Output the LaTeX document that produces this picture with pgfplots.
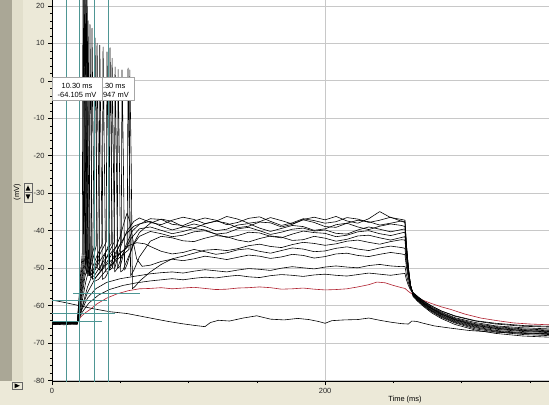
\documentclass[border=0pt]{standalone}
\usepackage{pgfplots}
\pgfplotsset{compat=1.18}
\usepackage{fontspec}
\setmainfont{Liberation Sans}
\definecolor{panel}{RGB}{236,233,216}
\definecolor{darkstrip}{RGB}{170,167,150}
\definecolor{midstrip}{RGB}{226,223,204}
\definecolor{cursor}{RGB}{78,150,148}
\definecolor{trred}{RGB}{175,30,45}
\definecolor{gridc}{RGB}{200,200,200}
\begin{document}
\begin{tikzpicture}[x=1bp,y=1bp]
\useasboundingbox (0,0) rectangle (549,405);
\fill[white] (0,0) rectangle (549,405);
\fill[panel] (0,0) rectangle (549,24);
\fill[panel] (0,24) rectangle (52,405);
\fill[midstrip] (12,24) rectangle (23,405);
\fill[darkstrip] (0,24) rectangle (12,405);
\begin{axis}[
  at={(52bp,24bp)}, anchor=south west, scale only axis,
  width=497bp, height=381bp,
  xmin=0, xmax=364, ymin=-80.1, ymax=21.55,
  axis lines*=left, axis line style={black, line width=0.6bp, -},
  tick align=outside,
  xtick={0,200}, xticklabels={0,200},
  minor xtick={50,100,150,250,300,350},
  ytick={-80,-70,-60,-50,-40,-30,-20,-10,0,10,20},
  yticklabels={-80,-70,-60,-50,-40,-30,-20,-10,0,10,20},
  minor y tick num=4,
  major tick length=4bp, minor tick length=2bp,
  tick style={black, line width=0.5bp},
  grid=major, major grid style={gridc, line width=0.6bp},
  ticklabel style={font=\fontsize{7.5}{9}\selectfont, text=black!85},
  /pgf/number format/assume math mode=true,
  trace/.style={black, line width=0.6bp, line join=round},
  cur/.style={cursor, line width=0.7bp},
]
% red trace
\addplot[trred, line width=0.6bp, line join=round] coordinates {(0,-64.6) (9,-64.4) (18.5,-64.6) (21,-63.0) (24,-62.0) (28,-61.0) (33,-59.5) (40,-58.0) (48,-56.8) (56,-56.0) (64,-55.5) (72,-55.4) (80,-55.2) (88,-55.5) (96,-55.3) (104,-55.1) (112,-55.4) (120,-55.7) (128,-55.6) (136,-55.3) (144,-55.2) (152,-55.0) (160,-55.2) (168,-55.6) (176,-55.5) (184,-55.3) (192,-55.6) (200,-55.8) (208,-55.7) (216,-55.5) (224,-55.0) (232,-54.4) (238,-53.7) (244,-53.9) (250,-54.6) (256,-55.2) (258.5,-55.4) (261,-56.2) (264.5,-57.1) (270,-58.3) (277,-59.3) (285,-60.3) (292,-61.0) (302,-62.2) (314,-63.3) (326,-64.0) (338,-64.6) (350,-64.9) (364,-65.1)};
% T1
\addplot[trace] coordinates {(0,-64.3) (9,-64.5) (18.5,-64.4) (19.8,-58) (21.2,-50) (22.2,-46) (22.7,32) (23.7,-22) (24.6,-50) (25.5,-51.5) (28,-48) (30.8,-44.5) (31.5,11.4) (32.5,-22) (33.4,-50) (35,-50.5) (38,-47) (41.8,-43.5) (42.5,8.8) (43.5,-22) (44.4,-50) (46,-50) (50,-44.5) (55,-40) (60,-37.5)
(64,-36.6) (72,-37.8) (80,-38.4) (88,-37.2) (96,-36.4) (104,-37.0) (112,-38.1) (120,-37.5) (128,-36.2) (136,-36.9) (144,-38.0) (152,-37.6) (160,-36.5) (168,-37.3) (176,-38.2) (184,-37.0) (192,-36.4) (200,-37.1) (208,-36.2) (216,-37.4) (224,-38.0) (232,-36.8) (240,-34.9) (248,-36.5) (256,-37.0) (258.5,-37.2)
(259.5,-43.3) (261,-49.9) (262.5,-54.5) (264.5,-57.6) (268,-58.9) (272,-60.2) (278,-61.9) (285,-63.4) (295,-65.0) (310,-66.5) (325,-67.4) (345,-68.1) (364,-68.4)};
% T2
\addplot[trace] coordinates {(0,-64.8) (9,-64.6) (18.5,-64.7) (20,-57.5) (21.8,-50) (23,-46) (23.5,32) (24.5,-22) (25.4,-51) (27,-51) (30,-47.5) (32.4,-44) (33,10) (34,-22) (34.9,-50.5) (36.5,-50.5) (40,-47) (45.6,-43) (46.2,3.7) (47.2,-22) (48.1,-50) (50,-49.5) (54,-44) (59,-40) (64,-38.3)
(72,-36.8) (80,-37.0) (88,-38.3) (96,-38.6) (104,-37.4) (112,-36.6) (120,-37.2) (128,-38.4) (136,-37.8) (144,-36.7) (152,-36.3) (160,-37.5) (168,-38.6) (176,-37.9) (184,-36.8) (192,-37.3) (200,-38.0) (208,-37.6) (216,-36.5) (224,-36.9) (232,-37.8) (240,-37.2) (248,-36.4) (256,-37.5) (258.5,-37.8)
(259.5,-43.7) (261,-50.0) (262.5,-54.5) (264.5,-57.4) (268,-58.7) (272,-60.0) (278,-61.6) (285,-63.1) (295,-64.6) (310,-66.2) (325,-67.0) (345,-67.7) (364,-68.0)};
% T3
\addplot[trace] coordinates {(0,-64.5) (9,-64.9) (18.5,-64.6) (20.2,-58) (22.2,-51) (23.7,-46) (24.2,31) (25.2,-22) (26.1,-51.5) (28,-51.5) (32,-47.5) (36.8,-43.5) (37.4,9) (38.4,-22) (39.3,-51) (41,-51) (45,-47) (50.7,-43) (51.3,2.9) (52.3,-22) (53.2,-50.5) (55,-49) (59,-44) (64,-40.5)
(72,-38.0) (80,-36.9) (88,-37.5) (96,-38.9) (104,-39.3) (112,-38.2) (120,-37.4) (128,-38.0) (136,-39.2) (144,-38.8) (152,-37.7) (160,-37.9) (168,-39.0) (176,-38.3) (184,-37.1) (192,-37.8) (200,-38.9) (208,-39.1) (216,-38.0) (224,-37.2) (232,-37.6) (240,-38.5) (248,-38.0) (256,-37.4) (258.5,-37.6)
(259.5,-43.5) (261,-49.8) (262.5,-54.4) (264.5,-57.3) (268,-58.6) (272,-59.8) (278,-61.4) (285,-62.9) (295,-64.4) (310,-65.9) (325,-66.8) (345,-67.4) (364,-67.7)};
% T4
\addplot[trace] coordinates {(0,-65.0) (9,-64.7) (18.5,-64.9) (20.5,-58.5) (22.6,-51) (24.5,-46) (25.0,30) (26,-22) (26.9,-52) (29,-51.5) (34,-47) (39.7,-43) (40.3,7.7) (41.3,-22) (42.2,-50.5) (44,-50) (48,-45) (54,-41) (60,-38.8) (64,-38.2)
(72,-37.5) (80,-38.8) (88,-39.8) (96,-39.0) (104,-38.2) (112,-38.9) (120,-40.0) (128,-39.6) (136,-38.5) (144,-38.1) (152,-39.3) (160,-40.2) (168,-39.4) (176,-38.6) (184,-38.9) (192,-39.9) (200,-39.5) (208,-38.4) (216,-38.0) (224,-39.0) (232,-39.7) (240,-38.8) (248,-38.2) (256,-38.6) (258.5,-38.9)
(259.5,-44.4) (261,-50.2) (262.5,-54.5) (264.5,-57.2) (268,-58.5) (272,-59.7) (278,-61.3) (285,-62.7) (295,-64.2) (310,-65.7) (325,-66.6) (345,-67.2) (364,-67.5)};
% T5
\addplot[trace] coordinates {(0,-64.4) (9,-64.3) (18.5,-64.5) (20.8,-58.5) (23,-51.5) (25.1,-46.5) (25.6,29) (26.6,-22) (27.5,-52) (30,-51.5) (36,-47.5) (43.4,-43.5) (44,6) (45,-22) (45.9,-51) (48,-50) (52,-46) (58,-42) (64,-39.5)
(72,-39.0) (80,-39.9) (88,-40.8) (96,-40.2) (104,-39.4) (112,-39.8) (120,-40.9) (128,-40.6) (136,-39.5) (144,-39.1) (152,-40.0) (160,-41.0) (168,-40.4) (176,-39.6) (184,-39.3) (192,-40.1) (200,-39.8) (208,-40.7) (216,-40.9) (224,-39.8) (232,-39.0) (240,-39.6) (248,-40.3) (256,-39.7) (258.5,-39.5)
(259.5,-44.8) (261,-50.4) (262.5,-54.5) (264.5,-57.1) (268,-58.3) (272,-59.5) (278,-61.1) (285,-62.5) (295,-64.0) (310,-65.5) (325,-66.3) (345,-66.9) (364,-67.2)};
% T6
\addplot[trace] coordinates {(0,-64.9) (9,-65.1) (18.5,-64.8) (21,-59) (23.5,-52) (25.9,-47) (26.4,16) (27.4,-22) (28.3,-52.5) (31,-52) (38,-48) (47.8,-44) (48.4,3) (49.4,-22) (50.3,-51) (52,-50.5) (56,-47) (60,-43.5) (64,-41.5)
(72,-40.2) (80,-40.8) (88,-41.6) (96,-41.2) (104,-40.3) (112,-40.0) (120,-40.9) (128,-41.8) (136,-41.3) (144,-40.4) (152,-40.6) (160,-41.5) (168,-41.9) (176,-40.9) (184,-40.1) (192,-40.5) (200,-40.7) (208,-41.6) (216,-41.2) (224,-40.3) (232,-40.0) (240,-40.8) (248,-41.3) (256,-40.6) (258.5,-40.4)
(259.5,-45.4) (261,-50.7) (262.5,-54.5) (264.5,-57.0) (268,-58.2) (272,-59.4) (278,-60.9) (285,-62.3) (295,-63.8) (310,-65.3) (325,-66.1) (345,-66.7) (364,-67.0)};
% T7
\addplot[trace] coordinates {(0,-64.6) (9,-64.4) (18.5,-64.6) (21.2,-59.5) (24,-52.5) (27.3,-47.5) (27.8,15) (28.8,-22) (29.7,-53) (32,-52.5) (40,-49) (48,-46.5) (55.1,-44.5) (55.7,3.4) (56.7,-22) (57.6,-52) (60,-50.5) (64,-47)
(72,-42.8) (80,-41.5) (88,-41.9) (96,-42.7) (104,-42.9) (112,-42.0) (120,-41.3) (128,-41.6) (136,-42.5) (144,-43.0) (152,-42.1) (160,-41.4) (168,-41.7) (176,-42.6) (184,-42.4) (192,-41.5) (200,-42.0) (208,-42.8) (216,-42.3) (224,-41.4) (232,-41.2) (240,-41.9) (248,-42.5) (256,-41.8) (258.5,-41.6)
(259.5,-46.2) (261,-51.1) (262.5,-54.6) (264.5,-56.9) (268,-58.1) (272,-59.3) (278,-60.8) (285,-62.2) (295,-63.7) (310,-65.2) (325,-66.0) (345,-66.6) (364,-66.9)};
% T8
\addplot[trace] coordinates {(0,-65.1) (9,-64.8) (18.5,-65.0) (21.5,-60) (24.8,-53.5) (28.8,-48) (29.3,14) (30.3,-22) (31.2,-53.5) (34,-53) (42,-49.5) (50,-47) (56.4,-45) (57,2.9) (58,-22) (58.9,-55.5) (61,-54.8) (64,-53.5)
(72,-51.0) (80,-49.0) (88,-47.5) (96,-46.8) (104,-46.0) (112,-45.2) (120,-45.0) (128,-45.3) (136,-44.8) (144,-44.0) (152,-43.6) (160,-44.2) (168,-44.5) (176,-43.7) (184,-43.1) (192,-43.4) (200,-43.9) (208,-43.5) (216,-42.8) (224,-42.5) (232,-43.1) (240,-43.6) (248,-42.9) (256,-42.4) (258.5,-42.5)
(259.5,-46.8) (261,-51.4) (262.5,-54.7) (264.5,-56.8) (268,-58.0) (272,-59.2) (278,-60.7) (285,-62.1) (295,-63.6) (310,-65.0) (325,-65.8) (345,-66.4) (364,-66.7)};
% T9
\addplot[trace] coordinates {(0,-64.7) (9,-64.5) (18.5,-64.7) (22,-60.5) (26,-55) (31,-50.5) (34.5,-47.5) (35,9.5) (36,-22) (36.9,-53) (39,-52.5) (44,-49) (50,-46) (56,-44) (62,-43.2) (68,-43.5)
(72,-44.2) (80,-45.5) (88,-46.2) (96,-45.8) (104,-45.0) (112,-45.6) (120,-46.3) (128,-45.9) (136,-45.1) (144,-44.8) (152,-45.5) (160,-46.0) (168,-45.3) (176,-44.6) (184,-44.9) (192,-45.6) (200,-45.4) (208,-44.7) (216,-44.3) (224,-44.9) (232,-45.3) (240,-44.6) (248,-44.1) (256,-44.5) (258.5,-44.7)
(259.5,-48.3) (261,-52.1) (262.5,-54.9) (264.5,-56.7) (268,-57.9) (272,-59.1) (278,-60.6) (285,-61.9) (295,-63.4) (310,-64.8) (325,-65.6) (345,-66.2) (364,-66.5)};
% T10
\addplot[trace] coordinates {(0,-64.5) (9,-64.7) (18.5,-64.5) (22,-60.5) (26,-56.5) (32,-52.5) (40,-48.5) (46,-45) (50,-41.5) (53,-37.5) (55,-35.3) (57,-37.5) (59.5,-43) (62,-47.5) (66,-49.5)
(72,-49.2) (80,-48.2) (88,-47.6) (96,-48.0) (104,-47.5) (112,-46.8) (120,-47.2) (128,-47.7) (136,-47.1) (144,-46.5) (152,-46.8) (160,-47.4) (168,-47.0) (176,-46.3) (184,-46.6) (192,-47.3) (200,-46.9) (208,-46.2) (216,-46.0) (224,-46.6) (232,-46.9) (240,-46.3) (248,-45.8) (256,-46.2) (258.5,-46.4)
(259.5,-49.5) (261,-52.7) (262.5,-55.1) (264.5,-56.6) (268,-57.8) (272,-58.9) (278,-60.4) (285,-61.7) (295,-63.2) (310,-64.5) (325,-65.4) (345,-65.9) (364,-66.2)};
% T11
\addplot[trace] coordinates {(0,-64.9) (9,-64.6) (18.5,-64.8) (22,-61) (26,-58) (32,-55.5) (40,-53.8) (50,-52.8) (60,-52.2)
(72,-51.5) (80,-51.2) (88,-51.0) (96,-51.3) (104,-50.8) (112,-50.4) (120,-50.7) (128,-51.0) (136,-50.5) (144,-50.1) (152,-50.3) (160,-50.6) (168,-50.0) (176,-49.6) (184,-49.9) (192,-50.2) (200,-49.7) (208,-49.4) (216,-49.7) (224,-49.9) (232,-49.3) (240,-49.0) (248,-49.4) (256,-49.6) (258.5,-49.5)
(259.5,-51.6) (261,-53.8) (262.5,-55.5) (264.5,-56.5) (268,-57.6) (272,-58.7) (278,-60.1) (285,-61.4) (295,-62.8) (310,-64.1) (325,-64.9) (345,-65.5) (364,-65.7)};
% T12
\addplot[trace] coordinates {(0,-64.4) (9,-64.6) (18.5,-64.5) (22,-61.8) (27,-59.3) (34,-57.2) (42,-55.7) (52,-54.6) (62,-53.9)
(72,-53.4) (80,-53.1) (88,-52.8) (96,-53.1) (104,-52.7) (112,-52.4) (120,-52.6) (128,-52.2) (136,-51.9) (144,-52.3) (152,-52.5) (160,-52.0) (168,-51.7) (176,-51.9) (184,-52.2) (192,-51.8) (200,-51.6) (208,-51.9) (216,-52.1) (224,-51.7) (232,-51.3) (240,-51.6) (248,-51.9) (256,-51.5) (258.5,-51.4)
(259.5,-53.0) (261,-54.6) (262.5,-55.8) (264.5,-56.6) (268,-57.7) (272,-58.8) (278,-60.1) (285,-61.4) (295,-62.7) (310,-64.0) (325,-64.7) (345,-65.3) (364,-65.5)};
% bottom trace
\addplot[trace] coordinates {(0,-58.5) (10,-59.2) (20,-60.0) (30,-60.8) (42,-61.6) (55,-62.1) (72,-63.3) (85,-64.2) (95,-64.8) (105,-65.3) (112,-65.6) (116,-64.5) (122,-63.9) (130,-64.1) (140,-63.3) (150,-62.7) (160,-63.6) (170,-63.8) (180,-63.4) (188,-63.7) (195,-64.2) (200,-64.7) (205,-64.0) (214,-63.8) (224,-63.7) (232,-63.3) (240,-63.9) (248,-64.4) (256,-64.8) (261,-64.9) (263.5,-64.1) (267,-64.2) (272,-64.7) (280,-65.4) (292,-66.0) (305,-66.6) (320,-67.0) (340,-67.3) (364,-67.5)};
% cursors
\addplot[cur] coordinates {(10.3,-82) (10.3,23)};
\addplot[cur] coordinates {(20.3,-82) (20.3,23)};
\addplot[cur] coordinates {(31.0,-82) (31.0,23)};
\addplot[cur] coordinates {(41.5,-82) (41.5,23)};
\addplot[cur] coordinates {(0,-64.2) (36.5,-64.2)};
\addplot[cur] coordinates {(0,-62.1) (46,-62.1)};
\addplot[cur] coordinates {(0,-58.5) (40,-58.5)};
\addplot[cur] coordinates {(15.5,-56.7) (64.5,-56.7)};
\end{axis}
% cursor readout boxes
\draw[gray!70, fill=white] (102,305) rectangle (134,328);
\node[anchor=west, inner sep=0pt, font=\fontsize{7.5}{9}\selectfont] at (102.8,319.5) {.30 ms};
\node[anchor=west, inner sep=0pt, font=\fontsize{7.5}{9}\selectfont] at (102.8,310.5) {947 mV};
\draw[gray!70, fill=white] (52,305) rectangle (102,328);
\node[inner sep=0pt, font=\fontsize{7.5}{9}\selectfont] at (77,319.5) {10.30 ms};
\node[inner sep=0pt, font=\fontsize{7.5}{9}\selectfont] at (77,310.5) {-64.105 mV};
% y label and buttons
\node[rotate=90, inner sep=0pt, font=\fontsize{7.5}{9}\selectfont] at (17.2,213) {(mV)};
\draw[black!60, fill=panel] (24,212.5) rectangle (32,222);
\draw[black!60, fill=panel] (24,203) rectangle (32,212.5);
\fill[black] (25.6,214.3) -- (30.4,214.3) -- (28,219.6) -- cycle;
\fill[black] (25.6,210.7) -- (30.4,210.7) -- (28,205.4) -- cycle;
% play button
\draw[black!60, fill=panel] (12.5,15.5) rectangle (22,23);
\fill[black] (14.5,16.8) -- (14.5,21.7) -- (19.8,19.25) -- cycle;
% x label
\node[inner sep=0pt, font=\fontsize{7.5}{9}\selectfont] at (405,5) {Time (ms)};
\end{tikzpicture}
\end{document}
